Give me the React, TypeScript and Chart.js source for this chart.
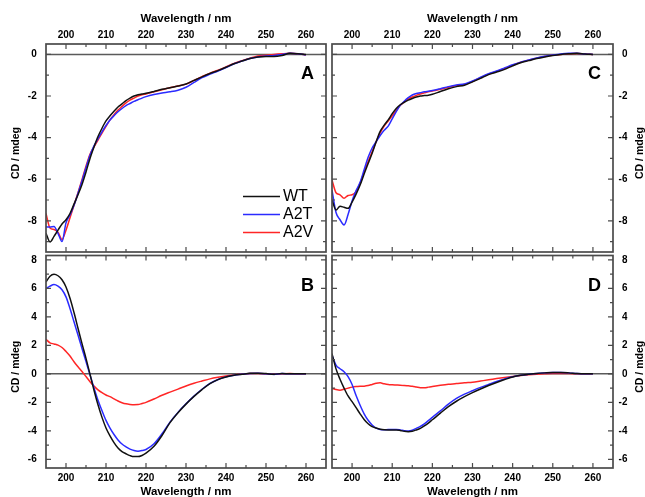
import React, { useEffect, useRef } from "react";
import { Chart, registerables } from "chart.js";

Chart.register(...registerables);

const FONT = "'Liberation Sans', Arial, Helvetica, sans-serif";
Chart.defaults.font.family = FONT;

// ---------- data ----------
const wavelengths = [
  195, 196, 197, 198, 199, 200, 201, 202, 203, 204, 205, 206, 207, 208, 209, 210,
  211, 212, 213, 214, 215, 216, 217, 218, 219, 220, 222, 224, 226, 228, 230, 232,
  234, 236, 238, 240, 242, 244, 246, 248, 250, 252, 254, 256, 258, 260,
];

const seriesLabels = ["WT", "A2T", "A2V"];
const seriesColors = ["#111111", "#2b2bff", "#ff2626"];

const xTickValues = [200, 210, 220, 230, 240, 250, 260];
const xMinorTickValues = [205, 215, 225, 235, 245, 255];
const yTicksAC = [0, -2, -4, -6, -8];
const yMinorAC = [-1, -3, -5, -7, -9];
const yTicksBD = [8, 6, 4, 2, 0, -2, -4, -6];
const yMinorBD = [7, 5, 3, 1, -1, -3, -5];

// Panel A
const aWT = [
  -8.6, -9.02, -8.75, -8.45, -8.15, -7.95, -7.65, -7.2, -6.75, -6.25, -5.65, -5.0, -4.45, -3.95, -3.55, -3.2,
  -2.95, -2.73, -2.53, -2.38, -2.22, -2.1, -2.0, -1.94, -1.9, -1.87, -1.78, -1.68, -1.6, -1.52, -1.42, -1.25,
  -1.08, -0.92, -0.78, -0.62, -0.45, -0.32, -0.2, -0.12, -0.1, -0.1, -0.05, 0.05, 0.03, 0.0,
];
const aA2T = [
  -8.29, -8.3, -8.27, -8.6, -9.0, -8.1, -7.72, -7.25, -6.68, -6.08, -5.45, -4.85, -4.4, -4.05, -3.72, -3.42,
  -3.15, -2.95, -2.76, -2.6, -2.46, -2.36, -2.26, -2.18, -2.1, -2.03, -1.93, -1.86, -1.8, -1.72, -1.58, -1.35,
  -1.12, -0.95, -0.8, -0.63, -0.45, -0.32, -0.2, -0.12, -0.08, -0.05, 0.0, 0.05, 0.03, -0.02,
];
const aA2V = [
  -7.65, -8.35, -8.42, -8.55, -8.9, -8.45, -7.85, -7.25, -6.65, -6.02, -5.38, -4.8, -4.45, -4.12, -3.78, -3.46,
  -3.15, -2.9, -2.68, -2.5, -2.33, -2.2, -2.1, -2.0, -1.94, -1.9, -1.8, -1.7, -1.6, -1.52, -1.43, -1.25,
  -1.07, -0.9, -0.76, -0.6, -0.43, -0.3, -0.18, -0.08, -0.04, 0.0, 0.03, 0.05, 0.03, -0.02,
];

// Panel B
const bWT = [
  6.45, 6.85, 6.98, 6.88, 6.6, 6.09, 5.3, 4.3, 3.2, 2.12, 1.09, -0.03, -1.15, -2.17, -3.05, -3.79,
  -4.35, -4.82, -5.2, -5.45, -5.6, -5.73, -5.8, -5.8, -5.72, -5.56, -5.08, -4.32, -3.42, -2.72, -2.12, -1.58,
  -1.1, -0.68, -0.4, -0.22, -0.1, -0.03, 0.04, 0.05, 0.02, -0.03, 0.03, 0.0, 0.0, 0.0,
];
const bA2T = [
  5.98, 6.15, 6.26, 6.15, 5.9, 5.4, 4.58, 3.65, 2.72, 1.78, 0.86, -0.07, -0.98, -1.85, -2.58, -3.26,
  -3.8, -4.25, -4.63, -4.92, -5.12, -5.28, -5.38, -5.42, -5.38, -5.3, -4.9, -4.2, -3.38, -2.7, -2.1, -1.56,
  -1.08, -0.67, -0.39, -0.21, -0.09, -0.02, 0.03, 0.04, 0.01, -0.04, 0.02, 0.0, 0.0, 0.0,
];
const bA2V = [
  2.42, 2.18, 2.1, 2.02, 1.85, 1.57, 1.25, 0.85, 0.5, 0.17, -0.19, -0.55, -0.86, -1.12, -1.32, -1.48,
  -1.6, -1.75, -1.9, -2.02, -2.1, -2.14, -2.16, -2.15, -2.08, -2.0, -1.76, -1.5, -1.28, -1.07, -0.85, -0.66,
  -0.5, -0.35, -0.24, -0.15, -0.07, -0.02, 0.02, 0.02, 0.0, -0.02, 0.0, 0.02, 0.0, 0.0,
];

// Panel C
const cWT = [
  -7.0, -7.48, -7.3, -7.35, -7.4, -7.1, -6.72, -6.28, -5.75, -5.25, -4.75, -4.2, -3.7, -3.4, -3.15, -2.85,
  -2.6, -2.42, -2.3, -2.2, -2.12, -2.05, -2.0, -1.98, -1.96, -1.92, -1.78, -1.65, -1.55, -1.48, -1.32, -1.15,
  -0.97, -0.85, -0.72, -0.55, -0.4, -0.3, -0.2, -0.12, -0.05, 0.0, 0.03, 0.05, 0.02, 0.0,
];
const cA2T = [
  -6.52, -7.6, -7.95, -8.2, -7.7, -7.05, -6.55, -6.15, -5.55, -4.95, -4.5, -4.2, -3.9, -3.65, -3.45, -3.1,
  -2.75, -2.45, -2.25, -2.08, -1.95, -1.88, -1.84, -1.8, -1.77, -1.74, -1.65, -1.55, -1.47, -1.42, -1.28, -1.1,
  -0.93, -0.8, -0.65, -0.5, -0.37, -0.27, -0.17, -0.09, -0.03, 0.02, 0.05, 0.05, 0.02, 0.0,
];
const cA2V = [
  -6.04, -6.65, -6.75, -6.92, -6.78, -6.75, -6.6, -6.2, -5.65, -5.15, -4.68, -4.2, -3.78, -3.45, -3.2, -2.95,
  -2.7, -2.45, -2.28, -2.15, -2.05, -1.97, -1.9, -1.85, -1.8, -1.76, -1.68, -1.58, -1.5, -1.45, -1.3, -1.12,
  -0.95, -0.82, -0.68, -0.52, -0.38, -0.28, -0.18, -0.1, -0.04, 0.0, 0.03, 0.04, 0.02, 0.0,
];

// Panel D
const dWT = [
  1.42, 0.35, -0.38, -1.0, -1.55, -1.95, -2.37, -2.8, -3.2, -3.5, -3.7, -3.8, -3.88, -3.92, -3.93, -3.93,
  -3.93, -3.97, -4.03, -4.05, -4.02, -3.93, -3.82, -3.65, -3.45, -3.22, -2.75, -2.3, -1.92, -1.6, -1.32, -1.06,
  -0.82, -0.6, -0.4, -0.22, -0.1, -0.03, 0.03, 0.07, 0.1, 0.1, 0.07, 0.02, 0.0, 0.0,
];
const dA2T = [
  1.3, 0.62, 0.36, 0.15, -0.2, -0.75, -1.52, -2.2, -2.8, -3.25, -3.58, -3.8, -3.9, -3.92, -3.9, -3.9,
  -3.9, -3.93, -3.98, -4.0, -3.95, -3.82, -3.68, -3.5, -3.28, -3.05, -2.6, -2.12, -1.72, -1.42, -1.18, -0.95,
  -0.74, -0.53, -0.35, -0.2, -0.1, -0.03, 0.03, 0.07, 0.1, 0.1, 0.07, 0.02, 0.0, 0.0,
];
const dA2V = [
  -1.02, -1.1, -1.14, -1.08, -1.0, -0.93, -0.89, -0.87, -0.86, -0.82, -0.74, -0.66, -0.63, -0.7, -0.75, -0.77,
  -0.78, -0.79, -0.81, -0.84, -0.87, -0.92, -0.97, -0.98, -0.93, -0.88, -0.8, -0.73, -0.68, -0.62, -0.58, -0.5,
  -0.42, -0.33, -0.25, -0.18, -0.12, -0.07, -0.03, 0.0, 0.02, 0.02, 0.02, 0.0, 0.0, 0.0,
];

// ---------- styling ----------
const FRAME_COLOR = "#4a4a4a";
const ZERO_COLOR = "#5a5a5a";

type PanelCfg = {
  letter: string;
  series: number[][];
  yMin: number;
  yMax: number;
  yTicks: number[];
  yMinor: number[];
  xPos: "top" | "bottom";
  yPos: "left" | "right";
  padding: { left: number; top: number; right: number; bottom: number };
  xAxisH: number;
  yAxisW: number;
  legend: boolean;
};

const panels: PanelCfg[] = [
  {
    letter: "A", series: [aWT, aA2T, aA2V], yMin: -9.5, yMax: 0.5, yTicks: yTicksAC, yMinor: yMinorAC,
    xPos: "top", yPos: "left", padding: { left: 0, top: 0, right: 319, bottom: 245 }, xAxisH: 44, yAxisW: 46, legend: true,
  },
  {
    letter: "B", series: [bWT, bA2T, bA2V], yMin: -6.6, yMax: 8.3, yTicks: yTicksBD, yMinor: yMinorBD,
    xPos: "bottom", yPos: "left", padding: { left: 0, top: 255.5, right: 319, bottom: 0 }, xAxisH: 29, yAxisW: 46, legend: false,
  },
  {
    letter: "C", series: [cWT, cA2T, cA2V], yMin: -9.5, yMax: 0.5, yTicks: yTicksAC, yMinor: yMinorAC,
    xPos: "top", yPos: "right", padding: { left: 332, top: 0, right: 17.5, bottom: 245 }, xAxisH: 44, yAxisW: 14.5, legend: false,
  },
  {
    letter: "D", series: [dWT, dA2T, dA2V], yMin: -6.6, yMax: 8.3, yTicks: yTicksBD, yMinor: yMinorBD,
    xPos: "bottom", yPos: "right", padding: { left: 332, top: 255.5, right: 17.5, bottom: 0 }, xAxisH: 29, yAxisW: 14.5, legend: false,
  },
];

function makePlugin(p: PanelCfg) {
  return {
    id: "frame" + p.letter,
    beforeDatasetsDraw(chart: any) {
      const { ctx, chartArea: a, scales } = chart;
      const y0 = scales.y.getPixelForValue(0);
      ctx.save();
      ctx.strokeStyle = ZERO_COLOR;
      ctx.lineWidth = 1.5;
      ctx.beginPath();
      ctx.moveTo(a.left, y0);
      ctx.lineTo(a.right, y0);
      ctx.stroke();
      ctx.restore();
    },
    afterDraw(chart: any) {
      const { ctx, chartArea: a, scales } = chart;
      const xs = scales.x;
      const ys = scales.y;
      ctx.save();
      ctx.strokeStyle = FRAME_COLOR;
      ctx.lineWidth = 1.7;
      ctx.strokeRect(a.left, a.top, a.right - a.left, a.bottom - a.top);
      ctx.lineWidth = 1.2;
      ctx.beginPath();
      const xt = (vals: number[], len: number) => {
        vals.forEach((v) => {
          const px = xs.getPixelForValue(v);
          ctx.moveTo(px, a.top);
          ctx.lineTo(px, a.top + len);
          ctx.moveTo(px, a.bottom);
          ctx.lineTo(px, a.bottom - len);
        });
      };
      const yt = (vals: number[], len: number) => {
        vals.forEach((v) => {
          const py = ys.getPixelForValue(v);
          ctx.moveTo(a.left, py);
          ctx.lineTo(a.left + len, py);
          ctx.moveTo(a.right, py);
          ctx.lineTo(a.right - len, py);
        });
      };
      xt(xTickValues, 5);
      xt(xMinorTickValues, 3);
      yt(p.yTicks, 5);
      yt(p.yMinor, 3);
      ctx.stroke();

      // panel letter
      ctx.fillStyle = "#000";
      ctx.font = `bold 18px ${FONT}`;
      ctx.textAlign = "center";
      ctx.textBaseline = "middle";
      ctx.fillText(p.letter, a.right - 18.5, a.top + 30.5);

      // y title
      ctx.font = `bold 10.5px ${FONT}`;
      const tx = p.yPos === "left" ? 16 : 640;
      const ty = (a.top + a.bottom) / 2 + 5;
      ctx.save();
      ctx.translate(tx, ty);
      ctx.rotate(-Math.PI / 2);
      ctx.fillText("CD / mdeg", 0, 0);
      ctx.restore();

      // legend
      if (p.legend) {
        ctx.font = `16px ${FONT}`;
        ctx.textAlign = "left";
        chart.data.datasets.forEach((ds: any, i: number) => {
          const ry = a.bottom - 55.5 + i * 18;
          ctx.strokeStyle = ds.borderColor;
          ctx.lineWidth = 1.5;
          ctx.beginPath();
          ctx.moveTo(a.right - 83, ry);
          ctx.lineTo(a.right - 46, ry);
          ctx.stroke();
          ctx.fillStyle = "#000";
          ctx.fillText(ds.label, a.right - 43, ry + 0.5);
        });
      }
      ctx.restore();
    },
  };
}

function PanelCanvas({ p }: { p: PanelCfg }) {
  const ref = useRef<HTMLCanvasElement | null>(null);
  useEffect(() => {
    if (!ref.current) return;
    const datasets = p.series.map((vals, i) => ({
      label: seriesLabels[i],
      data: wavelengths.map((w, j) => ({ x: w, y: vals[j] })),
      borderColor: seriesColors[i],
      backgroundColor: seriesColors[i],
      borderWidth: 1.5,
      pointRadius: 0,
      cubicInterpolationMode: "monotone" as const,
      fill: false,
    }));
    const chart = new Chart(ref.current, {
      type: "line",
      data: { datasets },
      options: {
        responsive: false,
        animation: false,
        events: [],
        layout: { padding: p.padding },
        plugins: { legend: { display: false }, tooltip: { enabled: false }, title: { display: false } },
        scales: {
          x: {
            type: "linear",
            position: p.xPos,
            min: 195,
            max: 265,
            afterBuildTicks: (s: any) => {
              s.ticks = xTickValues.map((v) => ({ value: v }));
            },
            afterFit: (s: any) => {
              s.height = p.xAxisH;
            },
            grid: { display: false, drawTicks: false },
            border: { display: false },
            ticks: {
              color: "#000",
              font: { size: 10, weight: "bold" },
              padding: p.xPos === "top" ? 3 : 4.3,
              maxRotation: 0,
              autoSkip: false,
            },
            title: {
              display: true,
              text: "Wavelength / nm",
              color: "#000",
              font: { size: 11.5, weight: "bold" },
              padding: p.xPos === "top" ? { top: 11.8, bottom: 0 } : { top: 0, bottom: -1.5 },
            },
          },
          y: {
            type: "linear",
            position: p.yPos,
            min: p.yMin,
            max: p.yMax,
            afterBuildTicks: (s: any) => {
              s.ticks = p.yTicks.map((v) => ({ value: v }));
            },
            afterFit: (s: any) => {
              s.width = p.yAxisW;
            },
            grid: { display: false, drawTicks: false },
            border: { display: false },
            ticks: {
              color: "#000",
              font: { size: 10, weight: "bold" },
              padding: p.yPos === "left" ? 9.3 : 5.6,
              crossAlign: p.yPos === "left" ? "near" : "far",
            },
            title: { display: false },
          },
        },
      } as any,
      plugins: [makePlugin(p)],
    });
    return () => chart.destroy();
  }, [p]);
  return (
    <canvas
      ref={ref}
      width={645}
      height={497}
      style={{ position: "absolute", left: 0, top: 0, width: 645, height: 497 }}
    />
  );
}

export default function App() {
  return (
    <div
      style={{
        position: "fixed",
        left: 0,
        top: 0,
        width: 645,
        height: 497,
        overflow: "hidden",
        background: "#fff",
      }}
    >
      {panels.map((p) => (
        <PanelCanvas key={p.letter} p={p} />
      ))}
    </div>
  );
}
